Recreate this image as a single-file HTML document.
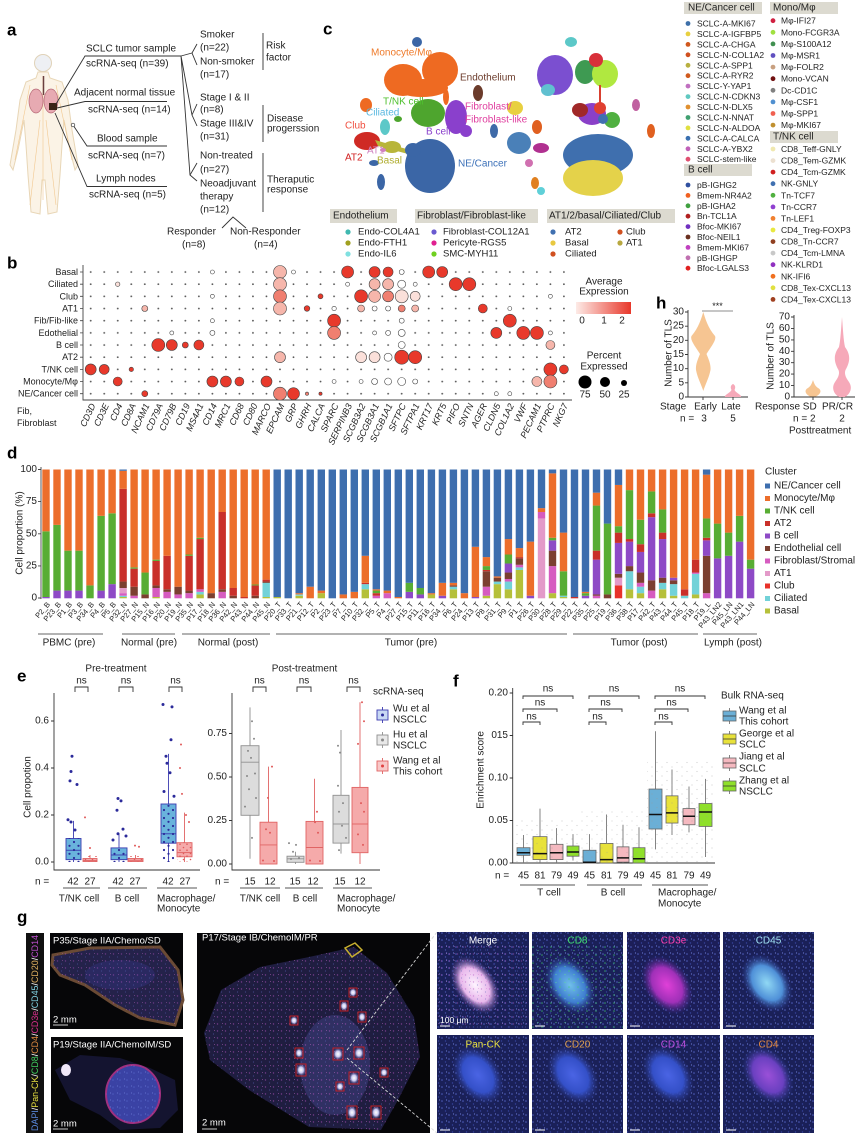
<!DOCTYPE html>
<html><head><meta charset="utf-8">
<style>
html,body{margin:0;padding:0;background:#fff;}
svg{display:block;font-family:"Liberation Sans",Arial,sans-serif;}
text{dominant-baseline:central;fill:#222;}
.L{font-weight:bold;font-size:17px;fill:#000}
.b{fill:#b5c03a}.c{fill:#72d2d8}.l{fill:#e8322a}.a{fill:#e39ac9}.f{fill:#d65cc0}.e{fill:#7b3f30}.p{fill:#8e4ac6}.r{fill:#c9302a}.g{fill:#58ad34}.o{fill:#ec6e2b}.n{fill:#3e6eae}
.R{fill:#e8392b}.S{fill:#f07f70}.P{fill:#f6b6ab}.W{fill:#fbe0da}.O{fill:#fff}
.dp circle{stroke:#444;stroke-width:0.6}
.ln{stroke:#333;stroke-width:0.9;fill:none}
.nv{fill:#2b2a9a}.rd{fill:#e05a5a}.gy{fill:#888}
</style></head><body>
<svg width="865" height="1139" viewBox="0 0 865 1139" xmlns="http://www.w3.org/2000/svg">
<defs>
<pattern id="tiny" patternUnits="userSpaceOnUse" x="84" y="266" width="13.52" height="12.17"><circle cx="6.7" cy="6" r="0.9" fill="#555"/></pattern>
<pattern id="pNavy" patternUnits="userSpaceOnUse" width="9" height="8"><circle cx="2" cy="2" r="1.1" fill="#2b2a9a"/><circle cx="6.5" cy="5.8" r="1.1" fill="#2b2a9a"/></pattern>
<pattern id="pRed" patternUnits="userSpaceOnUse" width="7" height="6"><circle cx="1.5" cy="1.5" r="0.8" fill="#e05a5a"/><circle cx="5" cy="4.2" r="0.8" fill="#e05a5a"/></pattern>
<pattern id="pGrey" patternUnits="userSpaceOnUse" width="10" height="9"><circle cx="2" cy="2" r="0.6" fill="#999"/><circle cx="7" cy="6.5" r="0.6" fill="#999"/></pattern>
<pattern id="spk" patternUnits="userSpaceOnUse" width="7" height="7"><circle cx="1" cy="2" r="0.8" fill="#5a6ad0"/><circle cx="4.5" cy="5" r="0.7" fill="#3a4aa8"/><circle cx="5.5" cy="1" r="0.6" fill="#7888e4"/></pattern>
<pattern id="spkG" patternUnits="userSpaceOnUse" width="9" height="8"><circle cx="2" cy="3" r="0.8" fill="#40d070"/><circle cx="7" cy="6.5" r="0.6" fill="#60e090"/></pattern>
<pattern id="spkP" patternUnits="userSpaceOnUse" width="8" height="7"><circle cx="1.5" cy="2" r="0.7" fill="#b050c0"/><circle cx="5.5" cy="5" r="0.6" fill="#5a60b8"/><circle cx="6.5" cy="1.5" r="0.5" fill="#d070d0"/></pattern>
<linearGradient id="avg" x1="0" x2="1" y1="0" y2="0"><stop offset="0" stop-color="#fdebe7"/><stop offset="1" stop-color="#e8372a"/></linearGradient>
<radialGradient id="gMerge"><stop offset="0" stop-color="#fff4ff"/><stop offset="0.6" stop-color="#e8b8ec"/><stop offset="1" stop-color="#6a4aa0" stop-opacity="0"/></radialGradient>
<radialGradient id="gCD8"><stop offset="0" stop-color="#70c0ea"/><stop offset="0.6" stop-color="#3f7ed0"/><stop offset="1" stop-color="#2a3a90" stop-opacity="0"/></radialGradient>
<radialGradient id="gCD3"><stop offset="0" stop-color="#e040d8"/><stop offset="0.6" stop-color="#a030b8"/><stop offset="1" stop-color="#4a2a90" stop-opacity="0"/></radialGradient>
<radialGradient id="gCD45"><stop offset="0" stop-color="#90d8f4"/><stop offset="0.6" stop-color="#4f90d8"/><stop offset="1" stop-color="#2a3a90" stop-opacity="0"/></radialGradient>
<radialGradient id="gBlue"><stop offset="0" stop-color="#4a64e4"/><stop offset="0.6" stop-color="#3450c8"/><stop offset="1" stop-color="#2a3a90" stop-opacity="0"/></radialGradient>
<radialGradient id="gCD4"><stop offset="0" stop-color="#9a50d8"/><stop offset="0.6" stop-color="#6a40c0"/><stop offset="1" stop-color="#2a3a90" stop-opacity="0"/></radialGradient>
<radialGradient id="gWhite"><stop offset="0" stop-color="#ffffff"/><stop offset="0.5" stop-color="#c8c8f0"/><stop offset="1" stop-color="#6060a0" stop-opacity="0"/></radialGradient>
</defs>

<!-- ================= PANEL A ================= -->
<g font-size="10">
<text class="L" x="7" y="30">a</text>
<path d="M38,72 L48,72 L50,78 L62,82 L68,100 L72,130 L78,165 L75,170 L70,150 L64,120 L62,145 L60,175 L57,212 L48,214 L45,180 L42,180 L40,214 L31,212 L28,175 L26,145 L24,120 L18,150 L13,170 L10,165 L16,130 L20,100 L26,82 L36,78 Z" fill="#fbf3e6" stroke="#e8d6b6" stroke-width="1"/>
<circle cx="43" cy="63" r="8.5" fill="#eef0f4" stroke="#e0d2b8"/>
<path d="M43,76 V200 M40,120 L30,205 M46,120 L56,205 M30,85 L15,160 M56,85 L72,160" stroke="#f2c890" stroke-width="0.6" fill="none"/>
<ellipse cx="36" cy="101" rx="7" ry="12" fill="#e7aab2" stroke="#b86a78" stroke-width="0.7"/>
<ellipse cx="51" cy="101" rx="7" ry="12" fill="#e7aab2" stroke="#b86a78" stroke-width="0.7"/>
<line x1="43.5" y1="76" x2="43.5" y2="95" stroke="#6a4040" stroke-width="1.5"/>
<rect x="49" y="103" width="8" height="7" fill="#3a2418"/>
<path class="ln" d="M56,104 L85,56 L181,56"/>
<path class="ln" d="M57,108 L85,101.5 L167,101.5"/>
<path class="ln" d="M73,125 L87,146 L167,146"/>
<circle cx="73" cy="125" r="1.8" fill="#fff" stroke="#333" stroke-width="0.7"/>
<path class="ln" d="M55,113 L87,186.5 L167,186.5"/>
<path class="ln" d="M181,56 L192,53 M181,56 L192,115 M181,56 L190,175"/>
<path class="ln" d="M197,44 L192,53 L197,65 M197,104 L192,115 L197,126 M197,163 L190,175 L197,181"/>
<path class="ln" d="M263,33 V70 M263,105 V142 M263,153 V212 M222,228 L233,217 L246,228"/>
<text x="86" y="49">SCLC tumor sample</text>
<text x="86" y="64">scRNA-seq (n=39)</text>
<text x="74" y="93">Adjacent normal tissue</text>
<text x="88" y="110">scRNA-seq (n=14)</text>
<text x="97" y="139">Blood sample</text>
<text x="88" y="156">scRNA-seq (n=7)</text>
<text x="96" y="179">Lymph nodes</text>
<text x="89" y="195">scRNA-seq (n=5)</text>
<text x="200" y="35">Smoker</text>
<text x="200" y="48">(n=22)</text>
<text x="200" y="62">Non-smoker</text>
<text x="200" y="75">(n=17)</text>
<text x="200" y="98">Stage I &amp; II</text>
<text x="200" y="110">(n=8)</text>
<text x="200" y="124">Stage III&amp;IV</text>
<text x="200" y="137">(n=31)</text>
<text x="200" y="156">Non-treated</text>
<text x="200" y="170">(n=27)</text>
<text x="200" y="184">Neoadjuvant</text>
<text x="200" y="197">therapy</text>
<text x="200" y="210">(n=12)</text>
<text x="266" y="46">Risk</text>
<text x="266" y="58">factor</text>
<text x="267" y="119">Disease</text>
<text x="267" y="129">progerssion</text>
<text x="267" y="180">Theraputic</text>
<text x="267" y="190">response</text>
<text x="167" y="232">Responder</text>
<text x="182" y="245">(n=8)</text>
<text x="230" y="232">Non-Responder</text>
<text x="254" y="245">(n=4)</text>
</g>

<!-- ================= PANEL C ================= -->
<text class="L" x="323" y="29">c</text>
<g>
<ellipse cx="417" cy="42" rx="5" ry="5" fill="#3b66a6"/>
<ellipse cx="403" cy="80" rx="19" ry="16" fill="#ee6a22"/>
<ellipse cx="440" cy="70" rx="18" ry="18" fill="#ee6a22"/>
<ellipse cx="422" cy="88" rx="26" ry="9" fill="#ee6a22"/>
<ellipse cx="446" cy="97" rx="3" ry="8" fill="#ee6a22"/>
<ellipse cx="366" cy="105" rx="6" ry="7" fill="#ee6a22"/>
<ellipse cx="478" cy="93" rx="5" ry="8" fill="#6b3b2b"/>
<ellipse cx="428" cy="113" rx="17" ry="14" fill="#4ea52e"/>
<ellipse cx="398" cy="119" rx="4" ry="3" fill="#4ea52e"/>
<ellipse cx="456" cy="117" rx="11" ry="17" fill="#8a40cc"/>
<ellipse cx="466" cy="131" rx="6" ry="6" fill="#8a40cc"/>
<ellipse cx="385" cy="127" rx="5" ry="8" fill="#5cc8c8"/>
<ellipse cx="367" cy="141" rx="13" ry="9" fill="#cf2a24"/>
<path d="M375,140 L410,150 L408,154 L378,146 Z" fill="#b8b53a"/>
<ellipse cx="392" cy="147" rx="9" ry="6" fill="#b8b53a"/>
<ellipse cx="383" cy="150" rx="3" ry="2" fill="#d080c0"/>
<ellipse cx="430" cy="166" rx="25" ry="27" fill="#3b66a6"/>
<ellipse cx="413" cy="150" rx="8" ry="7" fill="#3b66a6"/>
<ellipse cx="381" cy="182" rx="4" ry="8" fill="#3b66a6"/>
<ellipse cx="374" cy="163" rx="5" ry="3" fill="#3b66a6"/>
<ellipse cx="571" cy="42" rx="6" ry="5" fill="#5cc8c8"/>
<ellipse cx="555" cy="75" rx="18" ry="20" fill="#7b4fd0"/>
<ellipse cx="548" cy="90" rx="7" ry="6" fill="#60c0d0"/>
<ellipse cx="585" cy="72" rx="10" ry="12" fill="#3e9a52"/>
<ellipse cx="605" cy="74" rx="13" ry="14" fill="#b0e840"/>
<ellipse cx="596" cy="60" rx="7" ry="7" fill="#d8303a"/>
<path d="M600,85 L600,104" stroke="#d84030" stroke-width="2"/>
<ellipse cx="592" cy="114" rx="14" ry="11" fill="#8a40c8"/>
<ellipse cx="580" cy="110" rx="8" ry="7" fill="#a02828"/>
<ellipse cx="612" cy="120" rx="8" ry="8" fill="#50b040"/>
<ellipse cx="600" cy="108" rx="6" ry="6" fill="#e04030"/>
<ellipse cx="603" cy="119" rx="5" ry="5" fill="#4070b0"/>
<ellipse cx="515" cy="108" rx="8" ry="7" fill="#e8d040"/>
<ellipse cx="537" cy="127" rx="5" ry="7" fill="#e06020"/>
<ellipse cx="494" cy="131" rx="4" ry="7" fill="#3e6aa8"/>
<ellipse cx="519" cy="143" rx="12" ry="11" fill="#4a80b8"/>
<ellipse cx="541" cy="148" rx="8" ry="5" fill="#b03090"/>
<ellipse cx="598" cy="155" rx="35" ry="21" fill="#3f6fae"/>
<ellipse cx="593" cy="178" rx="30" ry="18" fill="#e4d24a"/>
<ellipse cx="529" cy="163" rx="4" ry="4" fill="#d070b0"/>
<ellipse cx="535" cy="183" rx="4" ry="6" fill="#e08020"/>
<ellipse cx="541" cy="191" rx="4" ry="4" fill="#60d0d8"/>
<ellipse cx="651" cy="131" rx="4" ry="7" fill="#e06020"/>
<ellipse cx="636" cy="105" rx="4" ry="6" fill="#c060a0"/>
</g>
<g font-size="10">
<text x="371" y="53" style="fill:#ee7a2a">Monocyte/Mφ</text>
<text x="460" y="78" style="fill:#6b3b2b">Endothelium</text>
<text x="383" y="102" style="fill:#4ec02e">T/NK cell</text>
<text x="366" y="113" style="fill:#5ab8e0">Ciliated</text>
<text x="465" y="107" style="fill:#e040a0">Fibroblast/</text>
<text x="465" y="120" style="fill:#e040a0">Fibroblast-like</text>
<text x="426" y="132" style="fill:#8a40cc">B cell</text>
<text x="345" y="126" style="fill:#f05040">Club</text>
<text x="367" y="151" style="fill:#d080c0">AT1</text>
<text x="345" y="158" style="fill:#d02020">AT2</text>
<text x="377" y="161" style="fill:#b0ad30">Basal</text>
<text x="458" y="164" style="fill:#3b70b8">NE/Cancer</text>
</g>
<g font-size="10">
<rect x="330" y="209" width="67" height="14" fill="#dcdad0"/>
<text x="333" y="216">Endothelium</text>
<rect x="415" y="209" width="123" height="14" fill="#dcdad0"/>
<text x="417" y="216">Fibroblast/Fibroblast-like</text>
<rect x="547" y="209" width="128" height="14" fill="#dcdad0"/>
<text x="549" y="216">AT1/2/basal/Ciliated/Club</text>
</g>
<g font-size="9.5">
<circle cx="348" cy="232" r="2.6" fill="#3fb8b0"/><text x="358" y="232">Endo-COL4A1</text>
<circle cx="348" cy="243" r="2.6" fill="#a0a020"/><text x="358" y="243">Endo-FTH1</text>
<circle cx="348" cy="254" r="2.6" fill="#80e0e0"/><text x="358" y="254">Endo-IL6</text>
<circle cx="434" cy="232" r="2.6" fill="#6a5ad0"/><text x="443" y="232">Fibroblast-COL12A1</text>
<circle cx="434" cy="243" r="2.6" fill="#e02090"/><text x="443" y="243">Pericyte-RGS5</text>
<circle cx="434" cy="254" r="2.6" fill="#70d020"/><text x="443" y="254">SMC-MYH11</text>
<circle cx="553" cy="232" r="2.6" fill="#4070b0"/><text x="565" y="232">AT2</text>
<circle cx="553" cy="243" r="2.6" fill="#e8c840"/><text x="565" y="243">Basal</text>
<circle cx="553" cy="254" r="2.6" fill="#d05020"/><text x="565" y="254">Ciliated</text>
<circle cx="620" cy="232" r="2.6" fill="#d05020"/><text x="626" y="232">Club</text>
<circle cx="620" cy="243" r="2.6" fill="#b8a840"/><text x="626" y="243">AT1</text>
</g>
<g font-size="10">
<rect x="684" y="2" width="78" height="12" fill="#dcdad0"/><text x="688" y="8">NE/Cancer cell</text>
<rect x="770" y="2" width="68" height="12" fill="#dcdad0"/><text x="773" y="8">Mono/Mφ</text>
<rect x="684" y="164" width="68" height="12" fill="#dcdad0"/><text x="688" y="170">B cell</text>
<rect x="770" y="131" width="68" height="12" fill="#dcdad0"/><text x="773" y="137">T/NK cell</text>
</g>
<g font-size="8.5">
<circle cx="688" cy="23.5" r="2.4" fill="#3d6fa8"/><text x="697" y="23.5">SCLC-A-MKI67</text>
<circle cx="688" cy="33.9" r="2.4" fill="#e8d040"/><text x="697" y="33.9">SCLC-A-IGFBP5</text>
<circle cx="688" cy="44.4" r="2.4" fill="#d0581e"/><text x="697" y="44.4">SCLC-A-CHGA</text>
<circle cx="688" cy="54.8" r="2.4" fill="#d05020"/><text x="697" y="54.8">SCLC-N-COL1A2</text>
<circle cx="688" cy="65.3" r="2.4" fill="#b8b040"/><text x="697" y="65.3">SCLC-A-SPP1</text>
<circle cx="688" cy="75.7" r="2.4" fill="#d05a1e"/><text x="697" y="75.7">SCLC-A-RYR2</text>
<circle cx="688" cy="86.1" r="2.4" fill="#c070c0"/><text x="697" y="86.1">SCLC-Y-YAP1</text>
<circle cx="688" cy="96.6" r="2.4" fill="#60c8c0"/><text x="697" y="96.6">SCLC-N-CDKN3</text>
<circle cx="688" cy="107" r="2.4" fill="#e09030"/><text x="697" y="107">SCLC-N-DLX5</text>
<circle cx="688" cy="117.5" r="2.4" fill="#40a070"/><text x="697" y="117.5">SCLC-N-NNAT</text>
<circle cx="688" cy="127.9" r="2.4" fill="#e0e040"/><text x="697" y="127.9">SCLC-N-ALDOA</text>
<circle cx="688" cy="138.3" r="2.4" fill="#3a70b0"/><text x="697" y="138.3">SCLC-A-CALCA</text>
<circle cx="688" cy="148.8" r="2.4" fill="#c060b8"/><text x="697" y="148.8">SCLC-A-YBX2</text>
<circle cx="688" cy="159.2" r="2.4" fill="#e05070"/><text x="697" y="159.2">SCLC-stem-like</text>
<circle cx="688" cy="185" r="2.4" fill="#3050a0"/><text x="697" y="185">pB-IGHG2</text>
<circle cx="688" cy="195.4" r="2.4" fill="#f06020"/><text x="697" y="195.4">Bmem-NR4A2</text>
<circle cx="688" cy="205.8" r="2.4" fill="#40a040"/><text x="697" y="205.8">pB-IGHA2</text>
<circle cx="688" cy="216.2" r="2.4" fill="#b02020"/><text x="697" y="216.2">Bn-TCL1A</text>
<circle cx="688" cy="226.6" r="2.4" fill="#7030c0"/><text x="697" y="226.6">Bfoc-MKI67</text>
<circle cx="688" cy="237" r="2.4" fill="#6a3020"/><text x="697" y="237">Bfoc-NEIL1</text>
<circle cx="688" cy="247.4" r="2.4" fill="#c040c0"/><text x="697" y="247.4">Bmem-MKI67</text>
<circle cx="688" cy="257.8" r="2.4" fill="#c070b0"/><text x="697" y="257.8">pB-IGHGP</text>
<circle cx="688" cy="268.2" r="2.4" fill="#e02020"/><text x="697" y="268.2">Bfoc-LGALS3</text>
<circle cx="773" cy="20.7" r="2.4" fill="#d02040"/><text x="781" y="20.7">Mφ-IFI27</text>
<circle cx="773" cy="32.3" r="2.4" fill="#a0e040"/><text x="781" y="32.3">Mono-FCGR3A</text>
<circle cx="773" cy="43.9" r="2.4" fill="#409050"/><text x="781" y="43.9">Mφ-S100A12</text>
<circle cx="773" cy="55.5" r="2.4" fill="#6050c0"/><text x="781" y="55.5">Mφ-MSR1</text>
<circle cx="773" cy="67.1" r="2.4" fill="#c8a080"/><text x="781" y="67.1">Mφ-FOLR2</text>
<circle cx="773" cy="78.7" r="2.4" fill="#701010"/><text x="781" y="78.7">Mono-VCAN</text>
<circle cx="773" cy="90.3" r="2.4" fill="#808080"/><text x="781" y="90.3">Dc-CD1C</text>
<circle cx="773" cy="101.9" r="2.4" fill="#5090d0"/><text x="781" y="101.9">Mφ-CSF1</text>
<circle cx="773" cy="113.5" r="2.4" fill="#f06050"/><text x="781" y="113.5">Mφ-SPP1</text>
<circle cx="773" cy="125.1" r="2.4" fill="#c09030"/><text x="781" y="125.1">Mφ-MKI67</text>
<circle cx="773" cy="149" r="2.4" fill="#f0e8b0"/><text x="781" y="149">CD8_Teff-GNLY</text>
<circle cx="773" cy="160.6" r="2.4" fill="#ece0d0"/><text x="781" y="160.6">CD8_Tem-GZMK</text>
<circle cx="773" cy="172.1" r="2.4" fill="#d02020"/><text x="781" y="172.1">CD4_Tcm-GZMK</text>
<circle cx="773" cy="183.7" r="2.4" fill="#4070b0"/><text x="781" y="183.7">NK-GNLY</text>
<circle cx="773" cy="195.3" r="2.4" fill="#50b040"/><text x="781" y="195.3">Tn-TCF7</text>
<circle cx="773" cy="206.9" r="2.4" fill="#9040d0"/><text x="781" y="206.9">Tn-CCR7</text>
<circle cx="773" cy="218.4" r="2.4" fill="#f08030"/><text x="781" y="218.4">Tn-LEF1</text>
<circle cx="773" cy="230" r="2.4" fill="#e8e840"/><text x="781" y="230">CD4_Treg-FOXP3</text>
<circle cx="773" cy="241.6" r="2.4" fill="#904020"/><text x="781" y="241.6">CD8_Tn-CCR7</text>
<circle cx="773" cy="253.1" r="2.4" fill="#c8c8c8"/><text x="781" y="253.1">CD4_Tcm-LMNA</text>
<circle cx="773" cy="264.7" r="2.4" fill="#9030c0"/><text x="781" y="264.7">NK-KLRD1</text>
<circle cx="773" cy="276.3" r="2.4" fill="#f07020"/><text x="781" y="276.3">NK-IFI6</text>
<circle cx="773" cy="287.8" r="2.4" fill="#e0e040"/><text x="781" y="287.8">CD8_Tex-CXCL13</text>
<circle cx="773" cy="299.4" r="2.4" fill="#a04020"/><text x="781" y="299.4">CD4_Tex-CXCL13</text>
</g>

<!-- ================= PANEL B ================= -->
<text class="L" x="7" y="263">b</text>
<rect x="84" y="266" width="486" height="133" fill="url(#tiny)"/>
<path d="M83,265 V400 H572" stroke="#444" stroke-width="0.9" fill="none"/>
<path d="M80,272 H83 M80,284.2 H83 M80,296.3 H83 M80,308.5 H83 M80,320.7 H83 M80,332.9 H83 M80,345 H83 M80,357.2 H83 M80,369.4 H83 M80,381.5 H83 M80,393.7 H83" stroke="#444" stroke-width="0.8"/>
<g font-size="9" text-anchor="end">
<text x="78" y="272">Basal</text><text x="78" y="284.2">Ciliated</text><text x="78" y="296.3">Club</text><text x="78" y="308.5">AT1</text><text x="78" y="320.7">Fib/Fib-like</text><text x="78" y="332.9">Edothelial</text><text x="78" y="345">B cell</text><text x="78" y="357.2">AT2</text><text x="78" y="369.4">T/NK cell</text><text x="78" y="381.5">Monocyte/Mφ</text><text x="78" y="393.7">NE/Cancer cell</text>
</g>
<g class="dp">
<circle class="O" cx="212.4" cy="272" r="2"/><circle class="P" cx="280" cy="272" r="6.5"/><circle class="O" cx="293.5" cy="272" r="2"/><circle class="R" cx="347.6" cy="272" r="6"/><circle class="R" cx="374.6" cy="272" r="5.5"/><circle class="R" cx="388.1" cy="272" r="5"/><circle class="O" cx="401.7" cy="272" r="2.5"/><circle class="R" cx="428.7" cy="272" r="6"/><circle class="R" cx="442.2" cy="272" r="5.5"/>
<circle class="W" cx="117.7" cy="284.2" r="2.2"/><circle class="P" cx="280" cy="284.2" r="6.5"/><circle class="O" cx="347.6" cy="284.2" r="2"/><circle class="P" cx="374.6" cy="284.2" r="5.5"/><circle class="P" cx="388.1" cy="284.2" r="5.5"/><circle class="O" cx="401.7" cy="284.2" r="4"/><circle class="O" cx="415.2" cy="284.2" r="2"/><circle class="R" cx="455.7" cy="284.2" r="6.5"/><circle class="R" cx="469.3" cy="284.2" r="6.5"/>
<circle class="O" cx="212.4" cy="296.3" r="2"/><circle class="S" cx="280" cy="296.3" r="6.5"/><circle class="R" cx="320.5" cy="296.3" r="2.5"/><circle class="R" cx="361.1" cy="296.3" r="6.5"/><circle class="P" cx="374.6" cy="296.3" r="6"/><circle class="S" cx="388.1" cy="296.3" r="5.5"/><circle class="W" cx="401.7" cy="296.3" r="6.5"/><circle class="W" cx="415.2" cy="296.3" r="5"/><circle class="O" cx="550.4" cy="296.3" r="2"/>
<circle class="P" cx="144.8" cy="308.5" r="3"/><circle class="P" cx="280" cy="308.5" r="6.5"/><circle class="R" cx="307" cy="308.5" r="2.8"/><circle class="O" cx="334.1" cy="308.5" r="2.2"/><circle class="P" cx="361.1" cy="308.5" r="3.5"/><circle class="O" cx="374.6" cy="308.5" r="2.5"/><circle class="O" cx="388.1" cy="308.5" r="2.5"/><circle class="S" cx="401.7" cy="308.5" r="3.5"/><circle class="P" cx="415.2" cy="308.5" r="3.5"/><circle class="R" cx="482.8" cy="308.5" r="4.5"/><circle class="O" cx="509.8" cy="308.5" r="2"/>
<circle class="O" cx="212.4" cy="320.7" r="2"/><circle class="R" cx="334.1" cy="320.7" r="6.5"/><circle class="O" cx="401.7" cy="320.7" r="2.5"/><circle class="R" cx="509.8" cy="320.7" r="6.5"/>
<circle class="O" cx="171.8" cy="332.9" r="2"/><circle class="O" cx="212.4" cy="332.9" r="2.5"/><circle class="S" cx="334.1" cy="332.9" r="6.5"/><circle class="O" cx="374.6" cy="332.9" r="2"/><circle class="O" cx="388.1" cy="332.9" r="2.5"/><circle class="O" cx="401.7" cy="332.9" r="3.5"/><circle class="R" cx="496.3" cy="332.9" r="5.5"/><circle class="R" cx="523.3" cy="332.9" r="6.5"/><circle class="R" cx="536.9" cy="332.9" r="6.5"/><circle class="O" cx="550.4" cy="332.9" r="2"/>
<circle class="R" cx="158.3" cy="345" r="6.5"/><circle class="R" cx="171.8" cy="345" r="5.5"/><circle class="R" cx="185.3" cy="345" r="3"/><circle class="R" cx="198.9" cy="345" r="5"/><circle class="O" cx="401.7" cy="345" r="3.5"/><circle class="P" cx="550.4" cy="345" r="4.5"/>
<circle class="P" cx="280" cy="357.2" r="5.5"/><circle class="W" cx="361.1" cy="357.2" r="5.5"/><circle class="W" cx="374.6" cy="357.2" r="5.5"/><circle class="O" cx="388.1" cy="357.2" r="4"/><circle class="R" cx="401.7" cy="357.2" r="7"/><circle class="R" cx="415.2" cy="357.2" r="6.5"/>
<circle class="R" cx="90.7" cy="369.4" r="5.5"/><circle class="R" cx="104.2" cy="369.4" r="5"/><circle class="R" cx="131.3" cy="369.4" r="2.2"/><circle class="R" cx="550.4" cy="369.4" r="6.5"/><circle class="R" cx="563.9" cy="369.4" r="4.5"/>
<circle class="R" cx="117.7" cy="381.5" r="4.5"/><circle class="R" cx="212.4" cy="381.5" r="5.5"/><circle class="R" cx="225.9" cy="381.5" r="5.5"/><circle class="R" cx="239.4" cy="381.5" r="4.5"/><circle class="R" cx="266.5" cy="381.5" r="5.5"/><circle class="O" cx="334.1" cy="381.5" r="2"/><circle class="O" cx="361.1" cy="381.5" r="2"/><circle class="O" cx="374.6" cy="381.5" r="3"/><circle class="O" cx="388.1" cy="381.5" r="3.5"/><circle class="O" cx="401.7" cy="381.5" r="4"/><circle class="O" cx="415.2" cy="381.5" r="2.5"/><circle class="P" cx="536.9" cy="381.5" r="5"/><circle class="S" cx="550.4" cy="381.5" r="6.5"/>
<circle class="R" cx="144.8" cy="393.7" r="3"/><circle class="S" cx="280" cy="393.7" r="6.5"/><circle class="R" cx="293.5" cy="393.7" r="6"/><circle class="S" cx="307" cy="393.7" r="1.6"/><circle class="R" cx="320.5" cy="393.7" r="1.6"/><circle class="O" cx="496.3" cy="393.7" r="2"/><circle class="O" cx="509.8" cy="393.7" r="2"/>
</g>
<g font-size="9" font-style="italic" text-anchor="end">
<text transform="translate(93,404) rotate(-65)">CD3D</text><text transform="translate(106.5,404) rotate(-65)">CD3E</text><text transform="translate(120,404) rotate(-65)">CD4</text><text transform="translate(133.5,404) rotate(-65)">CD8A</text><text transform="translate(147,404) rotate(-65)">NCAM1</text><text transform="translate(160.5,404) rotate(-65)">CD79A</text><text transform="translate(174,404) rotate(-65)">CD79B</text><text transform="translate(187.5,404) rotate(-65)">CD19</text><text transform="translate(201,404) rotate(-65)">MS4A1</text><text transform="translate(214.5,404) rotate(-65)">CD14</text><text transform="translate(228,404) rotate(-65)">MRC1</text><text transform="translate(241.5,404) rotate(-65)">CD68</text><text transform="translate(255,404) rotate(-65)">CD80</text><text transform="translate(268.5,404) rotate(-65)">MARCO</text><text transform="translate(282,404) rotate(-65)">EPCAM</text><text transform="translate(295.5,404) rotate(-65)">GRP</text><text transform="translate(309,404) rotate(-65)">GHRH</text><text transform="translate(322.5,404) rotate(-65)">CALCA</text><text transform="translate(336,404) rotate(-65)">SPARC</text><text transform="translate(349.5,404) rotate(-65)">SERPINB3</text><text transform="translate(363,404) rotate(-65)">SCGB3A2</text><text transform="translate(376.5,404) rotate(-65)">SCGB3A1</text><text transform="translate(390,404) rotate(-65)">SCGB1A1</text><text transform="translate(403.5,404) rotate(-65)">SFTPC</text><text transform="translate(417,404) rotate(-65)">SFTPA1</text><text transform="translate(430.5,404) rotate(-65)">KRT17</text><text transform="translate(444,404) rotate(-65)">KRT5</text><text transform="translate(457.5,404) rotate(-65)">PIFO</text><text transform="translate(471,404) rotate(-65)">SNTN</text><text transform="translate(484.5,404) rotate(-65)">AGER</text><text transform="translate(498,404) rotate(-65)">CLDN5</text><text transform="translate(511.5,404) rotate(-65)">COL1A2</text><text transform="translate(525,404) rotate(-65)">VWF</text><text transform="translate(538.5,404) rotate(-65)">PECAM1</text><text transform="translate(552,404) rotate(-65)">PTPRC</text><text transform="translate(565.5,404) rotate(-65)">NKG7</text>
</g>
<text x="17" y="411" font-size="9">Fib,</text>
<text x="17" y="423" font-size="9">Fibroblast</text>
<g font-size="10" text-anchor="middle">
<text x="604" y="282">Average</text><text x="604" y="292">Expression</text>
<text x="604" y="356">Percent</text><text x="604" y="367">Expressed</text>
<text x="582" y="321">0</text><text x="604" y="321">1</text><text x="622" y="321">2</text>
<text x="585" y="395">75</text><text x="605" y="395">50</text><text x="624" y="395">25</text>
</g>
<rect x="576" y="302" width="55" height="12" fill="url(#avg)"/>
<circle cx="585" cy="382" r="6.5" fill="#000"/><circle cx="605" cy="382" r="5" fill="#000"/><circle cx="624" cy="383" r="3" fill="#000"/>

<!-- ================= PANEL H ================= -->
<text class="L" x="656" y="303">h</text>
<g font-size="10">
<path d="M688,310 V397 H748 M703,397 V400 M733,397 V400" stroke="#333" stroke-width="0.9" fill="none"/>
<path d="M685,312 H688 M685,326.2 H688 M685,340.3 H688 M685,354.5 H688 M685,368.7 H688 M685,382.8 H688 M685,397 H688" stroke="#333" stroke-width="0.9"/>
<g text-anchor="end"><text x="684" y="312">30</text><text x="684" y="326.2">25</text><text x="684" y="340.3">20</text><text x="684" y="354.5">15</text><text x="684" y="368.7">10</text><text x="684" y="382.8">5</text><text x="684" y="397">0</text></g>
<path d="M703.3,312 C705,318 708,328 715,336 C717,340 710,348 706.5,354 C709,360 711,365 710.5,370 C709,378 705,385 703.3,391 C701.5,385 697.5,378 696,370 C695.5,365 697.5,360 700,354 C696.5,348 689.5,340 691.5,336 C698.5,328 701.5,318 703.3,312 Z" fill="#f6c592"/>
<path d="M733,384 C735,385 736,387 734.5,390 C736,393 742,395 741,397 L725,397 C724,395 730,393 731.5,390 C730,387 731,385 733,384 Z" fill="#f6a9b9"/>
<line x1="702" y1="311" x2="733" y2="311" stroke="#666" stroke-width="0.8"/>
<text x="717.5" y="306" font-size="9" text-anchor="middle">***</text>
<text transform="translate(669,353) rotate(-90)" text-anchor="middle">Number of TLS</text>
<text x="660" y="407">Stage</text>
<text x="705.5" y="407" text-anchor="middle">Early</text>
<text x="731" y="407" text-anchor="middle">Late</text>
<text x="680" y="419">n =</text><text x="704" y="419" text-anchor="middle">3</text><text x="733" y="419" text-anchor="middle">5</text>
<path d="M794,315 V397 H855 M813,397 V400 M842,397 V400" stroke="#333" stroke-width="0.9" fill="none"/>
<path d="M791,317 H794 M791,328.4 H794 M791,339.9 H794 M791,351.3 H794 M791,362.7 H794 M791,374.1 H794 M791,385.6 H794 M791,397 H794" stroke="#333" stroke-width="0.9"/>
<g text-anchor="end"><text x="790" y="317">70</text><text x="790" y="328.4">60</text><text x="790" y="339.9">50</text><text x="790" y="351.3">40</text><text x="790" y="362.7">30</text><text x="790" y="374.1">20</text><text x="790" y="385.6">10</text><text x="790" y="397">0</text></g>
<path d="M813,380 C814,383 815,386 818,388 C822,390 821,394 816,396.5 L810,396.5 C805,394 804,390 808,388 C811,386 812,383 813,380 Z" fill="#f6c592"/>
<path d="M842,317 C843,330 843.5,340 845,347 C851,355 850,362 845.5,370 C844,374 846,378 849,382 C853,388 850,394 845,397 L839,397 C834,394 831,388 835,382 C838,378 840,374 838.5,370 C834,362 833,355 839,347 C840.5,340 841,330 842,317 Z" fill="#f6a9b9"/>
<text transform="translate(771,356) rotate(-90)" text-anchor="middle">Number of TLS</text>
<text x="755" y="407">Response SD</text>
<text x="837.5" y="407" text-anchor="middle">PR/CR</text>
<text x="793" y="419">n = 2</text><text x="842" y="419" text-anchor="middle">2</text>
<text x="789" y="431">Posttreatment</text>
</g>

<!-- ================= PANEL D ================= -->
<text class="L" x="7" y="453">d</text>
<path d="M41,467 V599" stroke="#444" stroke-width="0.9"/>
<path d="M38,469.5 H41 M38,501.6 H41 M38,533.8 H41 M38,565.9 H41 M38,598 H41" stroke="#444" stroke-width="0.9"/>
<g font-size="10" text-anchor="end"><text x="37" y="469.5">100</text><text x="37" y="501.6">75</text><text x="37" y="533.8">50</text><text x="37" y="565.9">25</text><text x="37" y="598">0</text></g>
<text transform="translate(20,533) rotate(-90)" text-anchor="middle" font-size="10">Cell proportion (%)</text>
<g transform="translate(0,598.3) scale(1,-1.288)">
<g transform="translate(46,0)"><rect class="p" x="-3.7" y="0" width="7.4" height="1"/><rect class="g" x="-3.7" y="1" width="7.4" height="51"/><rect class="o" x="-3.7" y="52" width="7.4" height="48"/></g>
<g transform="translate(57,0)"><rect class="p" x="-3.7" y="0" width="7.4" height="6"/><rect class="g" x="-3.7" y="6" width="7.4" height="51"/><rect class="o" x="-3.7" y="57" width="7.4" height="43"/></g>
<g transform="translate(68,0)"><rect class="p" x="-3.7" y="0" width="7.4" height="6"/><rect class="g" x="-3.7" y="6" width="7.4" height="31"/><rect class="o" x="-3.7" y="37" width="7.4" height="63"/></g>
<g transform="translate(79,0)"><rect class="p" x="-3.7" y="0" width="7.4" height="6"/><rect class="g" x="-3.7" y="6" width="7.4" height="31"/><rect class="o" x="-3.7" y="37" width="7.4" height="63"/></g>
<g transform="translate(90,0)"><rect class="g" x="-3.7" y="0" width="7.4" height="10"/><rect class="o" x="-3.7" y="10" width="7.4" height="90"/></g>
<g transform="translate(101.1,0)"><rect class="p" x="-3.7" y="0" width="7.4" height="6"/><rect class="g" x="-3.7" y="6" width="7.4" height="58"/><rect class="o" x="-3.7" y="64" width="7.4" height="36"/></g>
<g transform="translate(112.1,0)"><rect class="p" x="-3.7" y="0" width="7.4" height="11"/><rect class="g" x="-3.7" y="11" width="7.4" height="55"/><rect class="o" x="-3.7" y="66" width="7.4" height="34"/></g>
<g transform="translate(123.1,0)"><rect class="b" x="-3.7" y="0" width="7.4" height="1"/><rect class="c" x="-3.7" y="1" width="7.4" height="1"/><rect class="f" x="-3.7" y="2" width="7.4" height="2"/><rect class="a" x="-3.7" y="4" width="7.4" height="4"/><rect class="e" x="-3.7" y="8" width="7.4" height="5"/><rect class="r" x="-3.7" y="13" width="7.4" height="72"/><rect class="o" x="-3.7" y="85" width="7.4" height="14"/><rect class="n" x="-3.7" y="99" width="7.4" height="1"/></g>
<g transform="translate(134.1,0)"><rect class="f" x="-3.7" y="0" width="7.4" height="2"/><rect class="e" x="-3.7" y="2" width="7.4" height="7"/><rect class="r" x="-3.7" y="9" width="7.4" height="14"/><rect class="g" x="-3.7" y="23" width="7.4" height="1"/><rect class="o" x="-3.7" y="24" width="7.4" height="76"/></g>
<g transform="translate(145.1,0)"><rect class="e" x="-3.7" y="0" width="7.4" height="3"/><rect class="g" x="-3.7" y="3" width="7.4" height="17"/><rect class="o" x="-3.7" y="20" width="7.4" height="80"/></g>
<g transform="translate(156.1,0)"><rect class="b" x="-3.7" y="0" width="7.4" height="1"/><rect class="f" x="-3.7" y="1" width="7.4" height="7"/><rect class="e" x="-3.7" y="8" width="7.4" height="2"/><rect class="r" x="-3.7" y="10" width="7.4" height="19"/><rect class="g" x="-3.7" y="29" width="7.4" height="1"/><rect class="o" x="-3.7" y="30" width="7.4" height="70"/></g>
<g transform="translate(167.1,0)"><rect class="f" x="-3.7" y="0" width="7.4" height="5"/><rect class="e" x="-3.7" y="5" width="7.4" height="2"/><rect class="r" x="-3.7" y="7" width="7.4" height="26"/><rect class="o" x="-3.7" y="33" width="7.4" height="67"/></g>
<g transform="translate(178.1,0)"><rect class="f" x="-3.7" y="0" width="7.4" height="3"/><rect class="e" x="-3.7" y="3" width="7.4" height="6"/><rect class="o" x="-3.7" y="9" width="7.4" height="91"/></g>
<g transform="translate(189.1,0)"><rect class="f" x="-3.7" y="0" width="7.4" height="4"/><rect class="e" x="-3.7" y="4" width="7.4" height="2"/><rect class="r" x="-3.7" y="6" width="7.4" height="27"/><rect class="g" x="-3.7" y="33" width="7.4" height="1"/><rect class="o" x="-3.7" y="34" width="7.4" height="66"/></g>
<g transform="translate(200.1,0)"><rect class="b" x="-3.7" y="0" width="7.4" height="3"/><rect class="c" x="-3.7" y="3" width="7.4" height="2"/><rect class="f" x="-3.7" y="5" width="7.4" height="2"/><rect class="r" x="-3.7" y="7" width="7.4" height="39"/><rect class="g" x="-3.7" y="46" width="7.4" height="1"/><rect class="o" x="-3.7" y="47" width="7.4" height="53"/></g>
<g transform="translate(211.2,0)"><rect class="e" x="-3.7" y="0" width="7.4" height="4"/><rect class="o" x="-3.7" y="4" width="7.4" height="96"/></g>
<g transform="translate(222.2,0)"><rect class="f" x="-3.7" y="0" width="7.4" height="5"/><rect class="e" x="-3.7" y="5" width="7.4" height="2"/><rect class="r" x="-3.7" y="7" width="7.4" height="60"/><rect class="o" x="-3.7" y="67" width="7.4" height="33"/></g>
<g transform="translate(233.2,0)"><rect class="e" x="-3.7" y="0" width="7.4" height="2"/><rect class="r" x="-3.7" y="2" width="7.4" height="6"/><rect class="o" x="-3.7" y="8" width="7.4" height="92"/></g>
<g transform="translate(244.2,0)"><rect class="r" x="-3.7" y="0" width="7.4" height="1"/><rect class="o" x="-3.7" y="1" width="7.4" height="99"/></g>
<g transform="translate(255.2,0)"><rect class="e" x="-3.7" y="0" width="7.4" height="2"/><rect class="r" x="-3.7" y="2" width="7.4" height="8"/><rect class="g" x="-3.7" y="10" width="7.4" height="0.7"/><rect class="o" x="-3.7" y="10.7" width="7.4" height="89.3"/></g>
<g transform="translate(266.2,0)"><rect class="b" x="-3.7" y="0" width="7.4" height="1"/><rect class="c" x="-3.7" y="1" width="7.4" height="11"/><rect class="e" x="-3.7" y="12" width="7.4" height="1"/><rect class="r" x="-3.7" y="13" width="7.4" height="1.5"/><rect class="o" x="-3.7" y="14.5" width="7.4" height="85.5"/></g>
<g transform="translate(277.2,0)"><rect class="b" x="-3.7" y="0" width="7.4" height="1"/><rect class="n" x="-3.7" y="1" width="7.4" height="99"/></g>
<g transform="translate(288.2,0)"><rect class="n" x="-3.7" y="0" width="7.4" height="100"/></g>
<g transform="translate(299.2,0)"><rect class="b" x="-3.7" y="0" width="7.4" height="2"/><rect class="c" x="-3.7" y="2" width="7.4" height="1"/><rect class="o" x="-3.7" y="3" width="7.4" height="1"/><rect class="n" x="-3.7" y="4" width="7.4" height="96"/></g>
<g transform="translate(310.2,0)"><rect class="o" x="-3.7" y="0" width="7.4" height="9"/><rect class="n" x="-3.7" y="9" width="7.4" height="91"/></g>
<g transform="translate(321.3,0)"><rect class="b" x="-3.7" y="0" width="7.4" height="4"/><rect class="o" x="-3.7" y="4" width="7.4" height="2"/><rect class="n" x="-3.7" y="6" width="7.4" height="94"/></g>
<g transform="translate(332.3,0)"><rect class="n" x="-3.7" y="0" width="7.4" height="100"/></g>
<g transform="translate(343.3,0)"><rect class="o" x="-3.7" y="0" width="7.4" height="3"/><rect class="n" x="-3.7" y="3" width="7.4" height="97"/></g>
<g transform="translate(354.3,0)"><rect class="o" x="-3.7" y="0" width="7.4" height="5"/><rect class="n" x="-3.7" y="5" width="7.4" height="95"/></g>
<g transform="translate(365.3,0)"><rect class="b" x="-3.7" y="0" width="7.4" height="7"/><rect class="c" x="-3.7" y="7" width="7.4" height="4"/><rect class="r" x="-3.7" y="11" width="7.4" height="1"/><rect class="o" x="-3.7" y="12" width="7.4" height="21"/><rect class="n" x="-3.7" y="33" width="7.4" height="67"/></g>
<g transform="translate(376.3,0)"><rect class="f" x="-3.7" y="0" width="7.4" height="2"/><rect class="r" x="-3.7" y="2" width="7.4" height="2"/><rect class="g" x="-3.7" y="4" width="7.4" height="2"/><rect class="o" x="-3.7" y="6" width="7.4" height="1"/><rect class="n" x="-3.7" y="7" width="7.4" height="93"/></g>
<g transform="translate(387.3,0)"><rect class="f" x="-3.7" y="0" width="7.4" height="4"/><rect class="o" x="-3.7" y="4" width="7.4" height="2"/><rect class="n" x="-3.7" y="6" width="7.4" height="94"/></g>
<g transform="translate(398.3,0)"><rect class="o" x="-3.7" y="0" width="7.4" height="1"/><rect class="n" x="-3.7" y="1" width="7.4" height="99"/></g>
<g transform="translate(409.3,0)"><rect class="p" x="-3.7" y="0" width="7.4" height="5"/><rect class="g" x="-3.7" y="5" width="7.4" height="7"/><rect class="n" x="-3.7" y="12" width="7.4" height="88"/></g>
<g transform="translate(420.3,0)"><rect class="p" x="-3.7" y="0" width="7.4" height="3"/><rect class="g" x="-3.7" y="3" width="7.4" height="5"/><rect class="n" x="-3.7" y="8" width="7.4" height="92"/></g>
<g transform="translate(431.4,0)"><rect class="b" x="-3.7" y="0" width="7.4" height="3"/><rect class="o" x="-3.7" y="3" width="7.4" height="1"/><rect class="n" x="-3.7" y="4" width="7.4" height="96"/></g>
<g transform="translate(442.4,0)"><rect class="p" x="-3.7" y="0" width="7.4" height="2"/><rect class="o" x="-3.7" y="2" width="7.4" height="10"/><rect class="n" x="-3.7" y="12" width="7.4" height="88"/></g>
<g transform="translate(453.4,0)"><rect class="b" x="-3.7" y="0" width="7.4" height="7"/><rect class="c" x="-3.7" y="7" width="7.4" height="2"/><rect class="e" x="-3.7" y="9" width="7.4" height="1"/><rect class="o" x="-3.7" y="10" width="7.4" height="2"/><rect class="n" x="-3.7" y="12" width="7.4" height="88"/></g>
<g transform="translate(464.4,0)"><rect class="o" x="-3.7" y="0" width="7.4" height="4"/><rect class="n" x="-3.7" y="4" width="7.4" height="96"/></g>
<g transform="translate(475.4,0)"><rect class="p" x="-3.7" y="0" width="7.4" height="1"/><rect class="o" x="-3.7" y="1" width="7.4" height="39"/><rect class="n" x="-3.7" y="40" width="7.4" height="60"/></g>
<g transform="translate(486.4,0)"><rect class="b" x="-3.7" y="0" width="7.4" height="2"/><rect class="f" x="-3.7" y="2" width="7.4" height="7"/><rect class="e" x="-3.7" y="9" width="7.4" height="12"/><rect class="r" x="-3.7" y="21" width="7.4" height="1"/><rect class="g" x="-3.7" y="22" width="7.4" height="3"/><rect class="o" x="-3.7" y="25" width="7.4" height="7"/><rect class="n" x="-3.7" y="32" width="7.4" height="68"/></g>
<g transform="translate(497.4,0)"><rect class="b" x="-3.7" y="0" width="7.4" height="11"/><rect class="c" x="-3.7" y="11" width="7.4" height="2"/><rect class="e" x="-3.7" y="13" width="7.4" height="3"/><rect class="o" x="-3.7" y="16" width="7.4" height="1"/><rect class="n" x="-3.7" y="17" width="7.4" height="83"/></g>
<g transform="translate(508.4,0)"><rect class="b" x="-3.7" y="0" width="7.4" height="7"/><rect class="c" x="-3.7" y="7" width="7.4" height="6"/><rect class="f" x="-3.7" y="13" width="7.4" height="2"/><rect class="e" x="-3.7" y="15" width="7.4" height="5"/><rect class="p" x="-3.7" y="20" width="7.4" height="7"/><rect class="g" x="-3.7" y="27" width="7.4" height="7"/><rect class="o" x="-3.7" y="34" width="7.4" height="12"/><rect class="n" x="-3.7" y="46" width="7.4" height="54"/></g>
<g transform="translate(519.4,0)"><rect class="b" x="-3.7" y="0" width="7.4" height="22"/><rect class="c" x="-3.7" y="22" width="7.4" height="2"/><rect class="f" x="-3.7" y="24" width="7.4" height="2"/><rect class="e" x="-3.7" y="26" width="7.4" height="5"/><rect class="r" x="-3.7" y="31" width="7.4" height="1"/><rect class="o" x="-3.7" y="32" width="7.4" height="7"/><rect class="n" x="-3.7" y="39" width="7.4" height="61"/></g>
<g transform="translate(530.4,0)"><rect class="p" x="-3.7" y="0" width="7.4" height="2"/><rect class="o" x="-3.7" y="2" width="7.4" height="42"/><rect class="n" x="-3.7" y="44" width="7.4" height="56"/></g>
<g transform="translate(541.5,0)"><rect class="a" x="-3.7" y="0" width="7.4" height="62"/><rect class="f" x="-3.7" y="62" width="7.4" height="5"/><rect class="o" x="-3.7" y="67" width="7.4" height="3"/><rect class="n" x="-3.7" y="70" width="7.4" height="30"/></g>
<g transform="translate(552.5,0)"><rect class="b" x="-3.7" y="0" width="7.4" height="4"/><rect class="f" x="-3.7" y="4" width="7.4" height="21"/><rect class="e" x="-3.7" y="25" width="7.4" height="12"/><rect class="p" x="-3.7" y="37" width="7.4" height="8"/><rect class="g" x="-3.7" y="45" width="7.4" height="2"/><rect class="o" x="-3.7" y="47" width="7.4" height="50"/><rect class="n" x="-3.7" y="97" width="7.4" height="3"/></g>
<g transform="translate(563.5,0)"><rect class="b" x="-3.7" y="0" width="7.4" height="1"/><rect class="c" x="-3.7" y="1" width="7.4" height="1"/><rect class="g" x="-3.7" y="2" width="7.4" height="19"/><rect class="o" x="-3.7" y="21" width="7.4" height="30"/><rect class="n" x="-3.7" y="51" width="7.4" height="49"/></g>
<g transform="translate(574.5,0)"><rect class="r" x="-3.7" y="0" width="7.4" height="1"/><rect class="n" x="-3.7" y="1" width="7.4" height="99"/></g>
<g transform="translate(585.5,0)"><rect class="p" x="-3.7" y="0" width="7.4" height="2"/><rect class="g" x="-3.7" y="2" width="7.4" height="2"/><rect class="o" x="-3.7" y="4" width="7.4" height="1"/><rect class="n" x="-3.7" y="5" width="7.4" height="95"/></g>
<g transform="translate(596.5,0)"><rect class="f" x="-3.7" y="0" width="7.4" height="2"/><rect class="e" x="-3.7" y="2" width="7.4" height="1"/><rect class="p" x="-3.7" y="3" width="7.4" height="27"/><rect class="r" x="-3.7" y="30" width="7.4" height="7"/><rect class="g" x="-3.7" y="37" width="7.4" height="35"/><rect class="o" x="-3.7" y="72" width="7.4" height="10"/><rect class="n" x="-3.7" y="82" width="7.4" height="18"/></g>
<g transform="translate(607.5,0)"><rect class="e" x="-3.7" y="0" width="7.4" height="3"/><rect class="g" x="-3.7" y="3" width="7.4" height="55"/><rect class="n" x="-3.7" y="58" width="7.4" height="42"/></g>
<g transform="translate(618.5,0)"><rect class="l" x="-3.7" y="0" width="7.4" height="10"/><rect class="a" x="-3.7" y="10" width="7.4" height="6"/><rect class="e" x="-3.7" y="16" width="7.4" height="3"/><rect class="p" x="-3.7" y="19" width="7.4" height="24"/><rect class="r" x="-3.7" y="43" width="7.4" height="8"/><rect class="g" x="-3.7" y="51" width="7.4" height="5"/><rect class="o" x="-3.7" y="56" width="7.4" height="32"/><rect class="n" x="-3.7" y="88" width="7.4" height="12"/></g>
<g transform="translate(629.5,0)"><rect class="b" x="-3.7" y="0" width="7.4" height="7"/><rect class="c" x="-3.7" y="7" width="7.4" height="14"/><rect class="e" x="-3.7" y="21" width="7.4" height="4"/><rect class="p" x="-3.7" y="25" width="7.4" height="19"/><rect class="r" x="-3.7" y="44" width="7.4" height="2"/><rect class="g" x="-3.7" y="46" width="7.4" height="38"/><rect class="o" x="-3.7" y="84" width="7.4" height="16"/></g>
<g transform="translate(640.5,0)"><rect class="b" x="-3.7" y="0" width="7.4" height="4"/><rect class="c" x="-3.7" y="4" width="7.4" height="5"/><rect class="f" x="-3.7" y="9" width="7.4" height="3"/><rect class="e" x="-3.7" y="12" width="7.4" height="8"/><rect class="p" x="-3.7" y="20" width="7.4" height="16"/><rect class="r" x="-3.7" y="36" width="7.4" height="6"/><rect class="g" x="-3.7" y="42" width="7.4" height="19"/><rect class="o" x="-3.7" y="61" width="7.4" height="39"/></g>
<g transform="translate(651.6,0)"><rect class="f" x="-3.7" y="0" width="7.4" height="6"/><rect class="e" x="-3.7" y="6" width="7.4" height="8"/><rect class="p" x="-3.7" y="14" width="7.4" height="49"/><rect class="r" x="-3.7" y="63" width="7.4" height="3"/><rect class="g" x="-3.7" y="66" width="7.4" height="17"/><rect class="o" x="-3.7" y="83" width="7.4" height="17"/></g>
<g transform="translate(662.6,0)"><rect class="b" x="-3.7" y="0" width="7.4" height="7"/><rect class="c" x="-3.7" y="7" width="7.4" height="5"/><rect class="e" x="-3.7" y="12" width="7.4" height="4"/><rect class="p" x="-3.7" y="16" width="7.4" height="30"/><rect class="r" x="-3.7" y="46" width="7.4" height="5"/><rect class="g" x="-3.7" y="51" width="7.4" height="18"/><rect class="o" x="-3.7" y="69" width="7.4" height="31"/></g>
<g transform="translate(673.6,0)"><rect class="b" x="-3.7" y="0" width="7.4" height="2"/><rect class="c" x="-3.7" y="2" width="7.4" height="9"/><rect class="e" x="-3.7" y="11" width="7.4" height="3"/><rect class="p" x="-3.7" y="14" width="7.4" height="2"/><rect class="o" x="-3.7" y="16" width="7.4" height="84"/></g>
<g transform="translate(684.6,0)"><rect class="c" x="-3.7" y="0" width="7.4" height="2"/><rect class="r" x="-3.7" y="2" width="7.4" height="5"/><rect class="o" x="-3.7" y="7" width="7.4" height="93"/></g>
<g transform="translate(695.6,0)"><rect class="b" x="-3.7" y="0" width="7.4" height="3"/><rect class="c" x="-3.7" y="3" width="7.4" height="16"/><rect class="f" x="-3.7" y="19" width="7.4" height="1"/><rect class="r" x="-3.7" y="20" width="7.4" height="10"/><rect class="o" x="-3.7" y="30" width="7.4" height="70"/></g>
<g transform="translate(706.6,0)"><rect class="f" x="-3.7" y="0" width="7.4" height="4"/><rect class="e" x="-3.7" y="4" width="7.4" height="29"/><rect class="p" x="-3.7" y="33" width="7.4" height="12"/><rect class="r" x="-3.7" y="45" width="7.4" height="2"/><rect class="g" x="-3.7" y="47" width="7.4" height="15"/><rect class="o" x="-3.7" y="62" width="7.4" height="34"/><rect class="n" x="-3.7" y="96" width="7.4" height="4"/></g>
<g transform="translate(717.6,0)"><rect class="p" x="-3.7" y="0" width="7.4" height="31"/><rect class="g" x="-3.7" y="31" width="7.4" height="27"/><rect class="o" x="-3.7" y="58" width="7.4" height="42"/></g>
<g transform="translate(728.6,0)"><rect class="p" x="-3.7" y="0" width="7.4" height="33"/><rect class="g" x="-3.7" y="33" width="7.4" height="18"/><rect class="o" x="-3.7" y="51" width="7.4" height="49"/></g>
<g transform="translate(739.6,0)"><rect class="p" x="-3.7" y="0" width="7.4" height="44"/><rect class="g" x="-3.7" y="44" width="7.4" height="20"/><rect class="o" x="-3.7" y="64" width="7.4" height="36"/></g>
<g transform="translate(750.6,0)"><rect class="p" x="-3.7" y="0" width="7.4" height="23"/><rect class="g" x="-3.7" y="23" width="7.4" height="7"/><rect class="o" x="-3.7" y="30" width="7.4" height="70"/></g>
</g>
<g font-size="7.5" text-anchor="end">
<text transform="translate(48.5,603) rotate(-50)">P2_B</text><text transform="translate(59.5,603) rotate(-50)">P23_B</text><text transform="translate(70.5,603) rotate(-50)">P1_B</text><text transform="translate(81.5,603) rotate(-50)">P3_B</text><text transform="translate(92.5,603) rotate(-50)">P34_B</text><text transform="translate(103.6,603) rotate(-50)">P4_B</text><text transform="translate(114.6,603) rotate(-50)">P5_B</text><text transform="translate(125.6,603) rotate(-50)">P32_N</text><text transform="translate(136.6,603) rotate(-50)">P27_N</text><text transform="translate(147.6,603) rotate(-50)">P15_N</text><text transform="translate(158.6,603) rotate(-50)">P16_N</text><text transform="translate(169.6,603) rotate(-50)">P20_N</text><text transform="translate(180.6,603) rotate(-50)">P19_N</text><text transform="translate(191.6,603) rotate(-50)">P35_N</text><text transform="translate(202.6,603) rotate(-50)">P17_N</text><text transform="translate(213.7,603) rotate(-50)">P18_N</text><text transform="translate(224.7,603) rotate(-50)">P36_N</text><text transform="translate(235.7,603) rotate(-50)">P42_N</text><text transform="translate(246.7,603) rotate(-50)">P43_N</text><text transform="translate(257.7,603) rotate(-50)">P44_N</text><text transform="translate(268.7,603) rotate(-50)">P45_N</text>
<text transform="translate(279.7,603) rotate(-50)">P20_T</text><text transform="translate(290.7,603) rotate(-50)">P33_T</text><text transform="translate(301.7,603) rotate(-50)">P21_T</text><text transform="translate(312.7,603) rotate(-50)">P12_T</text><text transform="translate(323.8,603) rotate(-50)">P2_T</text><text transform="translate(334.8,603) rotate(-50)">P23_T</text><text transform="translate(345.8,603) rotate(-50)">P7_T</text><text transform="translate(356.8,603) rotate(-50)">P10_T</text><text transform="translate(367.8,603) rotate(-50)">P32_T</text><text transform="translate(378.8,603) rotate(-50)">P5_T</text><text transform="translate(389.8,603) rotate(-50)">P4_T</text><text transform="translate(400.8,603) rotate(-50)">P27_T</text><text transform="translate(411.8,603) rotate(-50)">P15_T</text><text transform="translate(422.8,603) rotate(-50)">P11_T</text><text transform="translate(433.9,603) rotate(-50)">P16_T</text><text transform="translate(444.9,603) rotate(-50)">P34_T</text><text transform="translate(455.9,603) rotate(-50)">P6_T</text><text transform="translate(466.9,603) rotate(-50)">P24_T</text><text transform="translate(477.9,603) rotate(-50)">P13_T</text><text transform="translate(488.9,603) rotate(-50)">P8_T</text><text transform="translate(499.9,603) rotate(-50)">P31_T</text><text transform="translate(510.9,603) rotate(-50)">P9_T</text><text transform="translate(521.9,603) rotate(-50)">P1_T</text><text transform="translate(532.9,603) rotate(-50)">P26_T</text><text transform="translate(544,603) rotate(-50)">P30_T</text><text transform="translate(555,603) rotate(-50)">P28_T</text><text transform="translate(566,603) rotate(-50)">P29_T</text><text transform="translate(577,603) rotate(-50)">P22_T</text><text transform="translate(588,603) rotate(-50)">P35_T</text><text transform="translate(599,603) rotate(-50)">P25_T</text><text transform="translate(610,603) rotate(-50)">P19_T</text><text transform="translate(621,603) rotate(-50)">P36_T</text><text transform="translate(632,603) rotate(-50)">P38_T</text><text transform="translate(643,603) rotate(-50)">P17_T</text><text transform="translate(654.1,603) rotate(-50)">P42_T</text><text transform="translate(665.1,603) rotate(-50)">P43_T</text><text transform="translate(676.1,603) rotate(-50)">P44_T</text><text transform="translate(687.1,603) rotate(-50)">P45_T</text><text transform="translate(698.1,603) rotate(-50)">P18_T</text><text transform="translate(709.1,603) rotate(-50)">P19_L</text><text transform="translate(720.1,603) rotate(-50)">P43_LN2</text><text transform="translate(731.1,603) rotate(-50)">P45_LN</text><text transform="translate(742.1,603) rotate(-50)">P43_LN1</text><text transform="translate(753.1,603) rotate(-50)">P44_LN</text>
</g>
<path d="M38,634 H103 M122,634 H175 M182,634 H270 M276,634 H567 M573,634 H698 M703,634 H757" stroke="#666" stroke-width="1"/>
<g font-size="10" text-anchor="middle">
<text x="69" y="643">PBMC (pre)</text><text x="149" y="643">Normal (pre)</text><text x="228" y="643">Normal (post)</text><text x="411" y="643">Tumor (pre)</text><text x="639" y="643">Tumor (post)</text><text x="733" y="643">Lymph (post)</text>
</g>
<g font-size="10">
<text x="765" y="472">Cluster</text>
<rect class="n" x="765" y="483.5" width="5" height="5"/><text x="774" y="486">NE/Cancer cell</text>
<rect class="o" x="765" y="496" width="5" height="5"/><text x="774" y="498.5">Monocyte/Mφ</text>
<rect class="g" x="765" y="508.5" width="5" height="5"/><text x="774" y="511">T/NK cell</text>
<rect class="r" x="765" y="521" width="5" height="5"/><text x="774" y="523.5">AT2</text>
<rect class="p" x="765" y="533.5" width="5" height="5"/><text x="774" y="536">B cell</text>
<rect class="e" x="765" y="546" width="5" height="5"/><text x="774" y="548.5">Endothelial cell</text>
<rect class="f" x="765" y="558.5" width="5" height="5"/><text x="774" y="561">Fibroblast/Stromal</text>
<rect class="a" x="765" y="571" width="5" height="5"/><text x="774" y="573.5">AT1</text>
<rect class="l" x="765" y="583.5" width="5" height="5"/><text x="774" y="586">Club</text>
<rect class="c" x="765" y="596" width="5" height="5"/><text x="774" y="598.5">Ciliated</text>
<rect class="b" x="765" y="608.5" width="5" height="5"/><text x="774" y="611">Basal</text>
</g>

<!-- ================= PANEL E ================= -->
<text class="L" x="17" y="676">e</text>
<g font-size="10">
<text x="116" y="669" text-anchor="middle">Pre-treatment</text>
<text x="304.5" y="669" text-anchor="middle">Post-treatment</text>
<g text-anchor="middle"><text x="81.5" y="681">ns</text><text x="126" y="681">ns</text><text x="175.5" y="681">ns</text><text x="259.5" y="681">ns</text><text x="304" y="681">ns</text><text x="353.5" y="681">ns</text></g>
<path class="ln" d="M75,692 V687 H88 V692 M119,692 V687 H133 V692 M169,692 V687 H182 V692 M253,692 V687 H266 V692 M297,692 V687 H311 V692 M347,692 V687 H360 V692"/>
<path d="M54,693 V870 H200 M232,693 V870 H380" stroke="#333" stroke-width="0.9" fill="none"/>
<path d="M51,721 H54 M51,768 H54 M51,815 H54 M51,862 H54 M229,733.5 H232 M229,777 H232 M229,820.5 H232 M229,864 H232" stroke="#333" stroke-width="0.9"/>
<g text-anchor="end"><text x="49" y="721">0.6</text><text x="49" y="768">0.4</text><text x="49" y="815">0.2</text><text x="49" y="862">0.0</text><text x="227" y="733.5">0.75</text><text x="227" y="777">0.50</text><text x="227" y="820.5">0.25</text><text x="227" y="864">0.00</text></g>
<text transform="translate(28,787) rotate(-90)" text-anchor="middle">Cell propotion</text>
<!-- left boxes -->
<g stroke="#3b3bb0" stroke-width="0.9">
<path d="M73.5,838.5 V820.9 M73.5,859.65 V862 M119,847.9 V833.1 M119,859.65 V862 M168.5,804 V753.9 M168.5,843.2 V862" fill="none"/>
<rect x="66" y="838.5" width="15" height="21.15" fill="#69b3dc"/><line x1="66" x2="81" y1="850.25" y2="850.25"/>
<rect x="111" y="847.9" width="16" height="11.75" fill="#69b3dc"/><line x1="111" x2="127" y1="855" y2="855"/>
<rect x="161" y="804" width="15" height="39.2" fill="#69b3dc"/><line x1="161" x2="176" y1="833.8" y2="833.8"/>
</g>
<g stroke="#e06464" stroke-width="0.9">
<path d="M90,858.5 V855 M135.5,858.5 V855 M184.5,842.7 V812.65 M184.5,856.8 V862" fill="none"/>
<rect x="83" y="858.5" width="14" height="3" fill="#f5aaaa"/><line x1="83" x2="97" y1="860.6" y2="860.6"/>
<rect x="128" y="858.5" width="15" height="3" fill="#f5aaaa"/><line x1="128" x2="143" y1="860.3" y2="860.3"/>
<rect x="177" y="842.7" width="15" height="14.1" fill="#f5aaaa"/><line x1="177" x2="192" y1="852.6" y2="852.6"/>
</g>
<!-- right boxes -->
<g stroke="#909090" stroke-width="0.9">
<path d="M250,745.7 V707.4 M250,815.3 V858.8 M295.5,856.2 V851.8 M295.5,862.3 V864 M341,795.3 V730 M341,843.1 V853.6" fill="none"/>
<rect x="241" y="745.7" width="18" height="69.6" fill="#dcdcdc"/><line x1="241" x2="259" y1="762.2" y2="762.2"/>
<rect x="287" y="856.2" width="17" height="6.1" fill="#dcdcdc"/><line x1="287" x2="304" y1="858.8" y2="858.8"/>
<rect x="333" y="795.3" width="16" height="47.8" fill="#dcdcdc"/><line x1="333" x2="349" y1="824" y2="824"/>
</g>
<g stroke="#e06464" stroke-width="0.9">
<path d="M268.5,822.2 V766.6 M314.5,821.4 V778.7 M360,787.4 V702.2 M360,852.7 V864" fill="none"/>
<rect x="260" y="822.2" width="17" height="41.8" fill="#f5aaaa"/><line x1="260" x2="277" y1="844.9" y2="844.9"/>
<rect x="306" y="821.4" width="17" height="42.6" fill="#f5aaaa"/><line x1="306" x2="323" y1="847.5" y2="847.5"/>
<rect x="352" y="787.4" width="16" height="65.3" fill="#f5aaaa"/><line x1="352" x2="368" y1="824" y2="824"/>
</g>
<rect x="66" y="838" width="15" height="24" fill="url(#pNavy)"/>
<rect x="111" y="847" width="16" height="15" fill="url(#pNavy)"/>
<rect x="161" y="804" width="15" height="58" fill="url(#pNavy)"/>
<rect x="83" y="856" width="14" height="6" fill="url(#pRed)"/>
<rect x="128" y="856" width="15" height="6" fill="url(#pRed)"/>
<rect x="177" y="842" width="15" height="20" fill="url(#pRed)"/>
<g>
<circle class="nv" cx="72" cy="756.3" r="1.5"/><circle class="nv" cx="71" cy="771.5" r="1.5"/><circle class="nv" cx="70" cy="780.9" r="1.5"/><circle class="nv" cx="77" cy="784.5" r="1.5"/><circle class="nv" cx="68" cy="819.7" r="1.5"/><circle class="nv" cx="71" cy="822" r="1.5"/><circle class="nv" cx="75" cy="830" r="1.5"/>
<circle class="nv" cx="118" cy="798.5" r="1.5"/><circle class="nv" cx="121" cy="800.9" r="1.5"/><circle class="nv" cx="117" cy="810.3" r="1.5"/><circle class="nv" cx="123" cy="829.1" r="1.5"/><circle class="nv" cx="118" cy="833.8" r="1.5"/><circle class="nv" cx="126" cy="836" r="1.5"/><circle class="nv" cx="113" cy="840" r="1.5"/>
<circle class="nv" cx="163" cy="704.5" r="1.5"/><circle class="nv" cx="172" cy="706.9" r="1.5"/><circle class="nv" cx="171" cy="739.8" r="1.5"/><circle class="nv" cx="166" cy="756.3" r="1.5"/><circle class="nv" cx="167" cy="763.3" r="1.5"/><circle class="nv" cx="170" cy="772.7" r="1.5"/><circle class="nv" cx="164" cy="791.5" r="1.5"/><circle class="nv" cx="174" cy="796.2" r="1.5"/>
<circle class="rd" cx="85" cy="817.4" r="1"/><circle class="rd" cx="90" cy="848" r="1"/><circle class="rd" cx="135" cy="845.6" r="1"/><circle class="rd" cx="139" cy="846.7" r="1"/>
<circle class="rd" cx="181" cy="744.5" r="1"/><circle class="rd" cx="180" cy="768" r="1"/><circle class="rd" cx="182" cy="793.9" r="1"/><circle class="rd" cx="186" cy="815" r="1"/><circle class="rd" cx="189" cy="822" r="1"/>
<circle class="gy" cx="252" cy="721.3" r="1"/><circle class="gy" cx="254" cy="738.7" r="1"/><circle class="gy" cx="248" cy="750.9" r="1"/><circle class="gy" cx="251" cy="757.9" r="1"/><circle class="gy" cx="255" cy="773.5" r="1"/><circle class="gy" cx="249" cy="789.2" r="1"/><circle class="gy" cx="245" cy="806.6" r="1"/><circle class="gy" cx="252" cy="837.9" r="1"/><circle class="gy" cx="247" cy="776" r="1"/><circle class="gy" cx="256" cy="798" r="1"/>
<circle class="gy" cx="289" cy="843.1" r="1"/><circle class="gy" cx="296" cy="844.9" r="1"/><circle class="gy" cx="293" cy="851.8" r="1"/><circle class="gy" cx="299" cy="858" r="1"/><circle class="gy" cx="291" cy="859" r="1"/>
<circle class="gy" cx="338" cy="745.7" r="1"/><circle class="gy" cx="340" cy="752.6" r="1"/><circle class="gy" cx="338" cy="785.7" r="1"/><circle class="gy" cx="343" cy="803.1" r="1"/><circle class="gy" cx="339" cy="811.8" r="1"/><circle class="gy" cx="342" cy="825.7" r="1"/><circle class="gy" cx="346" cy="837.9" r="1"/><circle class="gy" cx="339" cy="850.1" r="1"/>
<circle class="rd" cx="272" cy="766.6" r="1"/><circle class="rd" cx="268" cy="797.9" r="1"/><circle class="rd" cx="266" cy="829.2" r="1"/><circle class="rd" cx="270" cy="832.7" r="1"/><circle class="rd" cx="263" cy="860.5" r="1"/><circle class="rd" cx="274" cy="861" r="1"/>
<circle class="rd" cx="317" cy="811.8" r="1"/><circle class="rd" cx="315" cy="822.2" r="1"/><circle class="rd" cx="318" cy="832.7" r="1"/><circle class="rd" cx="310" cy="860.5" r="1"/><circle class="rd" cx="320" cy="861" r="1"/>
<circle class="rd" cx="362" cy="702.2" r="1"/><circle class="rd" cx="364" cy="721.3" r="1"/><circle class="rd" cx="358" cy="743.9" r="1"/><circle class="rd" cx="361" cy="803.1" r="1"/><circle class="rd" cx="364" cy="811.8" r="1"/><circle class="rd" cx="358" cy="834.4" r="1"/><circle class="rd" cx="363" cy="844.9" r="1"/>
</g>
<text x="35" y="882">n =</text>
<g text-anchor="middle"><text x="73" y="882">42</text><text x="90" y="882">27</text><text x="118" y="882">42</text><text x="135" y="882">27</text><text x="168" y="882">42</text><text x="185" y="882">27</text>
<text x="250" y="882">15</text><text x="270" y="882">12</text><text x="295" y="882">15</text><text x="313" y="882">12</text><text x="340" y="882">15</text><text x="360" y="882">12</text>
<text x="79" y="899">T/NK cell</text><text x="127" y="899">B cell</text><text x="260" y="899">T/NK cell</text><text x="305" y="899">B cell</text></g>
<text x="215" y="882">n =</text>
<text x="157" y="899">Macrophage/</text><text x="157" y="909">Monocyte</text>
<text x="337" y="899">Macrophage/</text><text x="337" y="909">Monocyte</text>
<path d="M63,888 H100 M108,888 H147 M157,888 H197 M240,888 H280 M285,888 H323 M333,888 H372" stroke="#555" stroke-width="1"/>
<text x="373" y="692">scRNA-seq</text>
<g stroke-width="0.9">
<path d="M382.5,707 V710 M382.5,720 V723" stroke="#3b3bb0"/><rect x="377" y="710" width="11" height="10" fill="#c8d8f4" stroke="#3b3bb0"/><circle cx="382.5" cy="715" r="1.5" fill="#2b2a9a"/>
<path d="M382.5,732 V735 M382.5,745 V748" stroke="#909090"/><rect x="377" y="735" width="11" height="10" fill="#e8e8e8" stroke="#909090"/><circle cx="382.5" cy="740" r="1.5" fill="#888"/>
<path d="M382.5,758 V761 M382.5,771 V774" stroke="#e06464"/><rect x="377" y="761" width="11" height="10" fill="#f8c8c8" stroke="#e06464"/><circle cx="382.5" cy="766" r="1.5" fill="#e04040"/>
</g>
<text x="393" y="709">Wu et al</text><text x="393" y="720">NSCLC</text>
<text x="393" y="735">Hu et al</text><text x="393" y="746">NSCLC</text>
<text x="393" y="761">Wang et al</text><text x="393" y="772">This cohort</text>
</g>

<!-- ================= PANEL F ================= -->
<text class="L" x="453" y="681">f</text>
<g font-size="10">
<path d="M512.7,688 V863 H715" stroke="#333" stroke-width="0.9" fill="none"/>
<path d="M509.7,693 H512.7 M509.7,735.5 H512.7 M509.7,778 H512.7 M509.7,820.5 H512.7 M509.7,863 H512.7" stroke="#333" stroke-width="0.9"/>
<g text-anchor="end"><text x="508" y="693">0.20</text><text x="508" y="735.5">015</text><text x="508" y="778">0.10</text><text x="508" y="820.5">0.05</text><text x="508" y="863">0.00</text></g>
<text transform="translate(481,770) rotate(-90)" text-anchor="middle">Enrichment score</text>
<path class="ln" d="M523,699 V696 H573 V699 M523,712 V709 H557 V712 M523,725 V722 H540 V725 M589,699 V696 H639 V699 M589,712 V709 H622 V712 M589,725 V722 H606 V725 M655,699 V696 H705 V699 M655,712 V709 H688 V712 M655,725 V722 H672 V725" stroke-width="0.8"/>
<g text-anchor="middle"><text x="548" y="689">ns</text><text x="540" y="703">ns</text><text x="531.5" y="717">ns</text><text x="614" y="689">ns</text><text x="605.5" y="703">ns</text><text x="597.5" y="717">ns</text><text x="680" y="689">ns</text><text x="671.5" y="703">ns</text><text x="663.5" y="717">ns</text></g>
<g stroke="#777" stroke-width="0.9" fill="none">
<path d="M523.5,847.7 V835 M523.5,855.35 V863 M540,836.65 V808.6 M540,859.6 V863 M556.5,844.3 V828.15 M556.5,859.6 V863 M573,846 V834.1 M573,856.2 V860.45 M589.5,850.25 V834.1 M606.5,843.45 V814.55 M623,846.85 V824.75 M623,862.15 V863 M639,847.7 V827.3 M655.5,789.05 V731.25 M655.5,829 V849.4 M672,795.85 V769.5 M672,823.05 V834.95 M689,808.6 V786.5 M689,824.75 V832.4 M705.5,803.5 V778.85 M705.5,826.45 V857.05"/>
</g>
<g stroke="#666" stroke-width="0.8">
<rect x="517" y="847.7" width="13" height="7.65" fill="#6bafd6"/>
<rect x="533" y="836.65" width="14" height="22.95" fill="#e8e23a"/>
<rect x="550" y="844.3" width="13" height="15.3" fill="#f5b9c0"/>
<rect x="567" y="846" width="12" height="10.2" fill="#8fe02a"/>
<rect x="583" y="850.25" width="13" height="12.75" fill="#6bafd6"/>
<rect x="600" y="843.45" width="13" height="19.55" fill="#e8e23a"/>
<rect x="617" y="846.85" width="12" height="15.3" fill="#f5b9c0"/>
<rect x="633" y="847.7" width="12" height="15.3" fill="#8fe02a"/>
<rect x="649" y="789.05" width="13" height="39.95" fill="#6bafd6"/>
<rect x="666" y="795.85" width="12" height="27.2" fill="#e8e23a"/>
<rect x="683" y="808.6" width="12" height="16.15" fill="#f5b9c0"/>
<rect x="699" y="803.5" width="13" height="22.95" fill="#8fe02a"/>
</g>
<rect x="515" y="820" width="66" height="43" fill="url(#pGrey)" opacity="0.45"/>
<rect x="581" y="810" width="66" height="53" fill="url(#pGrey)" opacity="0.4"/>
<rect x="647" y="760" width="67" height="103" fill="url(#pGrey)" opacity="0.45"/>
<path d="M517,852.8 H530 M533,853.65 H547 M550,852.8 H563 M567,851.95 H579 M583,862.3 H596 M600,859.6 H613 M617,857.9 H629 M633,858.75 H645 M649,814.55 H662 M666,812.85 H678 M683,816.25 H695 M699,812 H712" stroke="#111" stroke-width="1.5"/>
<text x="495" y="876">n =</text>
<g text-anchor="middle"><text x="523.5" y="876">45</text><text x="540" y="876">81</text><text x="556.5" y="876">79</text><text x="573" y="876">49</text><text x="589.5" y="876">45</text><text x="606.5" y="876">81</text><text x="623" y="876">79</text><text x="639" y="876">49</text><text x="655.5" y="876">45</text><text x="672" y="876">81</text><text x="689" y="876">79</text><text x="705.5" y="876">49</text>
<text x="549" y="893">T cell</text><text x="613" y="893">B cell</text></g>
<text x="658" y="893">Macrophage/</text><text x="658" y="904">Monocyte</text>
<path d="M520,885 H575 M587,885 H642 M652,885 H708" stroke="#555" stroke-width="1"/>
<text x="721" y="696">Bulk RNA-seq</text>
<g stroke="#666" stroke-width="0.8">
<path d="M729.5,708 V711 M729.5,721 V724 M729.5,731 V734 M729.5,744 V747 M729.5,755 V758 M729.5,768 V771 M729.5,778 V781 M729.5,791 V794"/>
<rect x="723" y="711" width="13" height="10" fill="#6bafd6"/><rect x="723" y="734" width="13" height="10" fill="#e8e23a"/><rect x="723" y="758" width="13" height="10" fill="#f5b9c0"/><rect x="723" y="781" width="13" height="10" fill="#8fe02a"/>
<path d="M723,716 H736 M723,739 H736 M723,763 H736 M723,786 H736" stroke="#333"/>
</g>
<text x="739" y="711">Wang et al</text><text x="739" y="722">This cohort</text>
<text x="739" y="734">George et al</text><text x="739" y="745">SCLC</text>
<text x="739" y="757">Jiang et al</text><text x="739" y="769">SCLC</text>
<text x="739" y="781">Zhang et al</text><text x="739" y="792">NSCLC</text>
</g>

<!-- ================= PANEL G ================= -->
<text class="L" x="17" y="917">g</text>
<rect x="26" y="933" width="18" height="200" fill="#111"/>
<text transform="translate(35,1131) rotate(-90)" font-size="9" textLength="196" lengthAdjust="spacingAndGlyphs"><tspan style="fill:#5a8ae0">DAPI</tspan><tspan style="fill:#fff">/</tspan><tspan style="fill:#e8e040">Pan-CK</tspan><tspan style="fill:#fff">/</tspan><tspan style="fill:#40d060">CD8</tspan><tspan style="fill:#fff">/</tspan><tspan style="fill:#e08a40">CD4</tspan><tspan style="fill:#fff">/</tspan><tspan style="fill:#e03090">CD3e</tspan><tspan style="fill:#fff">/</tspan><tspan style="fill:#80d0e0">CD45</tspan><tspan style="fill:#fff">/</tspan><tspan style="fill:#e0b060">CD20</tspan><tspan style="fill:#fff">/</tspan><tspan style="fill:#c050d0">CD14</tspan></text>
<rect x="50" y="933" width="133" height="96" fill="#060608"/>
<path d="M53,955 L90,948 L160,947 L178,970 L183,1000 L175,1025 L140,1018 L115,1005 L85,985 L60,975 L52,965 Z" fill="#24224a" stroke="#6a4a34" stroke-width="3"/>
<ellipse cx="120" cy="975" rx="35" ry="15" fill="#2c2c66" opacity="0.8"/>
<path d="M53,955 L90,948 L160,947 L178,970 L183,1000 L175,1025 L140,1018 L115,1005 L85,985 L60,975 L52,965 Z" fill="url(#spkP)" opacity="0.5"/>
<text x="53" y="941" font-size="9.5" style="fill:#fff">P35/Stage IIA/Chemo/SD</text>
<text x="53" y="1020" font-size="9.5" style="fill:#fff">2 mm</text>
<line x1="53" y1="1025" x2="68" y2="1025" stroke="#ccc" stroke-width="1"/>
<rect x="51" y="1037" width="132" height="96" fill="#060608"/>
<path d="M55,1070 L80,1055 L120,1058 L150,1068 L175,1080 L178,1110 L160,1128 L120,1130 L100,1115 L70,1100 Z" fill="#141430"/>
<ellipse cx="133" cy="1094" rx="27" ry="29" fill="#3a42a4" stroke="#a03080" stroke-width="2"/>
<ellipse cx="133" cy="1094" rx="27" ry="29" fill="url(#spk)" opacity="0.6"/>
<ellipse cx="66" cy="1070" rx="5" ry="6" fill="#f0e8f8"/>
<text x="53" y="1045" font-size="9.5" style="fill:#fff">P19/Stage IIA/ChemoIM/SD</text>
<text x="53" y="1124" font-size="9.5" style="fill:#fff">2 mm</text>
<line x1="53" y1="1129" x2="68" y2="1129" stroke="#ccc" stroke-width="1"/>
<rect x="197" y="933" width="233" height="200" fill="#060608"/>
<path d="M204,1033 L221,990 L260,967 L309,957 L354,947 L387,973 L414,1017 L420,1057 L398,1100 L381,1130 L309,1127 L249,1090 L210,1060 Z" fill="#1f1d40"/>
<ellipse cx="335" cy="1065" rx="35" ry="50" fill="#34366c" opacity="0.8"/>
<path d="M204,1033 L221,990 L260,967 L309,957 L354,947 L387,973 L414,1017 L420,1057 L398,1100 L381,1130 L309,1127 L249,1090 L210,1060 Z" fill="url(#spkP)" opacity="0.6"/>
<path d="M345,948 L355,943 L362,950 L352,957 Z" fill="none" stroke="#c8b030" stroke-width="1.5"/>
<g fill="url(#gWhite)" stroke="#d02020" stroke-width="0.9">
<rect x="349" y="988" width="8" height="9"/><rect x="340" y="1001" width="8" height="10"/><rect x="358" y="1012" width="8" height="10"/><rect x="290" y="1016" width="8" height="9"/><rect x="295" y="1048" width="8" height="10"/><rect x="333" y="1048" width="10" height="12"/><rect x="354" y="1047" width="10" height="12"/><rect x="296" y="1064" width="10" height="12"/><rect x="349" y="1072" width="10" height="12"/><rect x="336" y="1082" width="8" height="9"/><rect x="380" y="1068" width="8" height="9"/><rect x="347" y="1106" width="10" height="13"/><rect x="371" y="1106" width="10" height="13"/>
</g>
<text x="202" y="938" font-size="9.5" style="fill:#fff">P17/Stage IB/ChemoIM/PR</text>
<text x="202" y="1123" font-size="9.5" style="fill:#fff">2 mm</text>
<line x1="202" y1="1129" x2="217" y2="1129" stroke="#ccc" stroke-width="1"/>
<path d="M347,1050 L437,932 M347,1058 L437,1133" stroke="#d8d8d8" stroke-width="0.9" stroke-dasharray="3,2"/>
<g>
<rect x="437" y="932" width="92" height="97" fill="#1a2058"/>
<rect x="532" y="932" width="91" height="97" fill="#1a2058"/>
<rect x="627" y="932" width="93" height="97" fill="#1c1e58"/>
<rect x="723" y="932" width="91" height="97" fill="#1a2058"/>
<rect x="437" y="1035" width="92" height="98" fill="#1a2058"/>
<rect x="532" y="1035" width="91" height="98" fill="#1a2058"/>
<rect x="627" y="1035" width="93" height="98" fill="#1a2058"/>
<rect x="723" y="1035" width="91" height="98" fill="#1a2058"/>
<g fill="url(#spk)" opacity="0.85">
<rect x="437" y="932" width="92" height="97"/><rect x="532" y="932" width="91" height="97"/><rect x="627" y="932" width="93" height="97"/><rect x="723" y="932" width="91" height="97"/>
<rect x="437" y="1035" width="92" height="98"/><rect x="532" y="1035" width="91" height="98"/><rect x="627" y="1035" width="93" height="98"/><rect x="723" y="1035" width="91" height="98"/>
</g>
<ellipse cx="475" cy="985" rx="32" ry="20" transform="rotate(55 475 985)" fill="url(#gMerge)"/>
<ellipse cx="570" cy="985" rx="32" ry="22" transform="rotate(55 570 985)" fill="url(#gCD8)"/>
<ellipse cx="667" cy="985" rx="32" ry="22" transform="rotate(55 667 985)" fill="url(#gCD3)"/>
<ellipse cx="767" cy="983" rx="32" ry="22" transform="rotate(55 767 983)" fill="url(#gCD45)"/>
<ellipse cx="478" cy="1075" rx="32" ry="22" transform="rotate(55 478 1075)" fill="url(#gBlue)"/>
<ellipse cx="573" cy="1075" rx="32" ry="22" transform="rotate(55 573 1075)" fill="url(#gBlue)"/>
<ellipse cx="668" cy="1075" rx="32" ry="22" transform="rotate(55 668 1075)" fill="url(#gBlue)"/>
<ellipse cx="768" cy="1075" rx="32" ry="22" transform="rotate(55 768 1075)" fill="url(#gCD4)"/>
<rect x="532" y="945" width="91" height="84" fill="url(#spkG)" opacity="0.7"/>
<rect x="437" y="945" width="92" height="84" fill="url(#spkP)" opacity="0.5"/>
</g>
<g font-size="10" text-anchor="middle">
<text x="483" y="941" style="fill:#fff">Merge</text><text x="577.5" y="941" style="fill:#40e070">CD8</text><text x="673.5" y="941" style="fill:#ff40b0">CD3e</text><text x="768.5" y="941" style="fill:#a0e0f0">CD45</text>
<text x="483" y="1045" style="fill:#e8e040">Pan-CK</text><text x="577.5" y="1045" style="fill:#e0a050">CD20</text><text x="673.5" y="1045" style="fill:#c050e0">CD14</text><text x="768.5" y="1045" style="fill:#e08840">CD4</text>
</g>
<text x="440" y="1020" font-size="8.5" style="fill:#fff">100 μm</text>
<path d="M440,1026 H450 M535,1026 H545 M630,1026 H640 M726,1026 H736 M440,1130 H450 M535,1130 H545 M630,1130 H640 M726,1130 H736" stroke="#fff" stroke-width="1"/>
</svg>
</body></html>
